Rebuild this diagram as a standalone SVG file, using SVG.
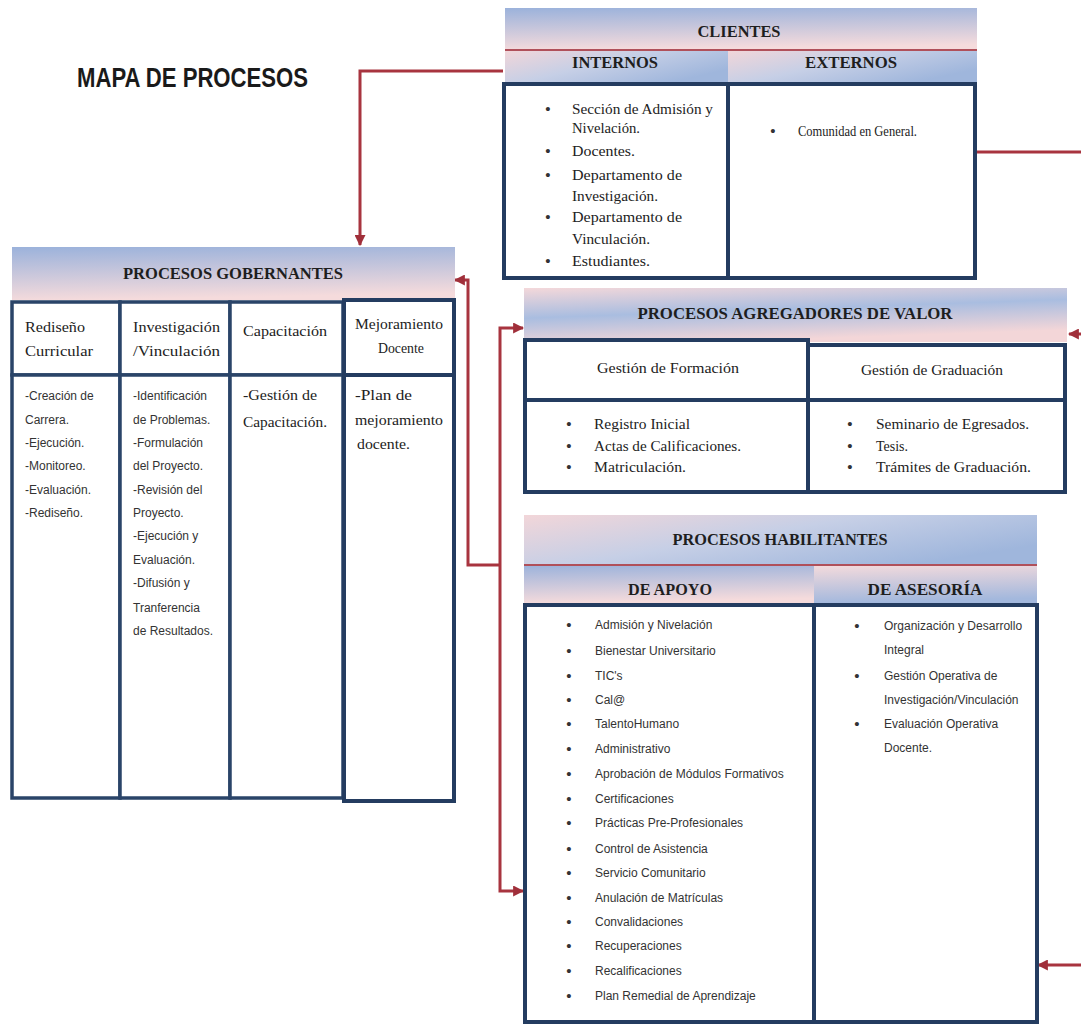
<svg xmlns="http://www.w3.org/2000/svg" width="1081" height="1027" viewBox="0 0 1081 1027">
<defs>
<style>
.bg{fill:#ffffff}
.box{fill:#ffffff;stroke:#243c60;stroke-width:4}
.cell{fill:#ffffff;stroke:#2a4468;stroke-width:3.5}
.sep{stroke:#b0505a;stroke-width:2}
.ttl{font-family:"Liberation Serif","DejaVu Serif",serif;font-weight:bold;font-size:16px;fill:#1e1e1e;text-anchor:middle}
.srf{font-family:"Liberation Serif","DejaVu Serif",serif;font-size:14px;fill:#222}
.srfc{font-family:"Liberation Serif","DejaVu Serif",serif;font-size:14px;fill:#222;text-anchor:middle}
.sans{font-family:"Liberation Sans","DejaVu Sans",sans-serif;font-size:12px;fill:#333}
.bul{font-family:"Liberation Sans","DejaVu Sans",sans-serif;font-size:15px;fill:#333;text-anchor:middle}
.main{font-family:"Liberation Sans","DejaVu Sans",sans-serif;font-weight:bold;font-size:27px;fill:#1a1a1a}
.con{fill:none;stroke:#a8343f;stroke-width:3}
</style>
<linearGradient id="gBP" x1="0" y1="0" x2="0.15" y2="1">
<stop offset="0" stop-color="#9bb2db"/><stop offset="1" stop-color="#f5dbdc"/>
</linearGradient>
<linearGradient id="gPB" x1="0" y1="0" x2="0.15" y2="1">
<stop offset="0" stop-color="#f5dbdc"/><stop offset="1" stop-color="#a3b8dd"/>
</linearGradient>
<linearGradient id="gMix" x1="0" y1="0" x2="0.35" y2="1">
<stop offset="0" stop-color="#f4d8da"/><stop offset="0.5" stop-color="#a9bde0"/><stop offset="1" stop-color="#f3d6d8"/>
</linearGradient>
<linearGradient id="gMix2" x1="0" y1="0" x2="1" y2="0.6">
<stop offset="0" stop-color="#f2d6d9"/><stop offset="0.5" stop-color="#c6cfe6"/><stop offset="1" stop-color="#9fb6dc"/>
</linearGradient>
<marker id="arr" viewBox="0 0 10 10" refX="9" refY="5" markerWidth="11" markerHeight="11" markerUnits="userSpaceOnUse" orient="auto">
<path d="M0,0 L10,5 L0,10 Z" fill="#a02f3a"/>
</marker>
</defs>
<rect class="bg" x="0" y="0" width="1081" height="1027"/>

<text class="main" x="77" y="87" textLength="231" lengthAdjust="spacingAndGlyphs">MAPA DE PROCESOS</text>

<g id="connectors">
<path class="con" d="M503,71 H360 V245" marker-end="url(#arr)"/>
<path class="con" d="M500,565 H468 V280 H455" marker-end="url(#arr)"/>
<path class="con" d="M500,565 V328 H523" marker-end="url(#arr)"/>
<path class="con" d="M500,565 V891 H523" marker-end="url(#arr)"/>
<path class="con" d="M975,152 H1095 V965 H1038" marker-end="url(#arr)"/>
<path class="con" d="M1095,334 H1069" marker-end="url(#arr)"/>
</g>

<g id="clientes">
<rect x="505" y="8" width="472" height="42" fill="url(#gBP)"/>
<rect x="505" y="50" width="223" height="32" fill="url(#gMix2)"/>
<rect x="728" y="50" width="249" height="32" fill="url(#gMix2)"/>
<line class="sep" x1="505" y1="50" x2="977" y2="50"/>
<text class="ttl" x="739" y="37" textLength="83" lengthAdjust="spacingAndGlyphs">CLIENTES</text>
<text class="ttl" x="615" y="68" textLength="86" lengthAdjust="spacingAndGlyphs">INTERNOS</text>
<text class="ttl" x="851" y="68" textLength="92" lengthAdjust="spacingAndGlyphs">EXTERNOS</text>
<rect class="box" x="504" y="84" width="471" height="194"/>
<line class="box" x1="728" y1="84" x2="728" y2="278"/>
<text class="bul" x="548" y="114">•</text>
<text class="srf" x="572" y="114" textLength="141" lengthAdjust="spacingAndGlyphs">Sección de Admisión y</text>
<text class="srf" x="572" y="133" textLength="68" lengthAdjust="spacingAndGlyphs">Nivelación.</text>
<text class="bul" x="548" y="156">•</text>
<text class="srf" x="572" y="156" textLength="63" lengthAdjust="spacingAndGlyphs">Docentes.</text>
<text class="bul" x="548" y="180">•</text>
<text class="srf" x="572" y="180" textLength="110" lengthAdjust="spacingAndGlyphs">Departamento de</text>
<text class="srf" x="572" y="201" textLength="86" lengthAdjust="spacingAndGlyphs">Investigación.</text>
<text class="bul" x="548" y="222">•</text>
<text class="srf" x="572" y="222" textLength="110" lengthAdjust="spacingAndGlyphs">Departamento de</text>
<text class="srf" x="572" y="244" textLength="78" lengthAdjust="spacingAndGlyphs">Vinculación.</text>
<text class="bul" x="548" y="266">•</text>
<text class="srf" x="572" y="266" textLength="78" lengthAdjust="spacingAndGlyphs">Estudiantes.</text>
<text class="bul" x="773" y="136">•</text>
<text class="srf" x="798" y="136" font-size="12" textLength="119" lengthAdjust="spacingAndGlyphs">Comunidad en General.</text>
</g>

<g id="gobernantes">
<rect x="12" y="247" width="443" height="53" fill="url(#gBP)"/>
<text class="ttl" x="233" y="279" textLength="220" lengthAdjust="spacingAndGlyphs">PROCESOS GOBERNANTES</text>
<rect class="cell" x="12" y="302" width="108" height="73"/>
<rect class="cell" x="120" y="302" width="110" height="73"/>
<rect class="cell" x="230" y="302" width="113" height="73"/>
<rect class="cell" x="12" y="375" width="108" height="423"/>
<rect class="cell" x="120" y="375" width="110" height="423"/>
<rect class="cell" x="230" y="375" width="113" height="423"/>
<rect class="box" x="344" y="300" width="110" height="75"/>
<rect class="box" x="344" y="375" width="110" height="426"/>
<text class="srf" x="25" y="332" textLength="60" lengthAdjust="spacingAndGlyphs">Rediseño</text>
<text class="srf" x="25" y="356" textLength="68" lengthAdjust="spacingAndGlyphs">Curricular</text>
<text class="srf" x="133" y="332" textLength="87" lengthAdjust="spacingAndGlyphs">Investigación</text>
<text class="srf" x="133" y="356" textLength="87" lengthAdjust="spacingAndGlyphs">/Vinculación</text>
<text class="srf" x="243" y="336" textLength="84" lengthAdjust="spacingAndGlyphs">Capacitación</text>
<text class="srfc" x="399" y="329" textLength="88" lengthAdjust="spacingAndGlyphs">Mejoramiento</text>
<text class="srfc" x="401" y="353" textLength="46" lengthAdjust="spacingAndGlyphs">Docente</text>
<text class="sans" x="25" y="400">-Creación de</text>
<text class="sans" x="25" y="424">Carrera.</text>
<text class="sans" x="25" y="447">-Ejecución.</text>
<text class="sans" x="25" y="470">-Monitoreo.</text>
<text class="sans" x="25" y="494">-Evaluación.</text>
<text class="sans" x="25" y="517">-Rediseño.</text>
<text class="sans" x="133" y="400">-Identificación</text>
<text class="sans" x="133" y="424">de Problemas.</text>
<text class="sans" x="133" y="447">-Formulación</text>
<text class="sans" x="133" y="470">del Proyecto.</text>
<text class="sans" x="133" y="494">-Revisión del</text>
<text class="sans" x="133" y="517">Proyecto.</text>
<text class="sans" x="133" y="540">-Ejecución y</text>
<text class="sans" x="133" y="564">Evaluación.</text>
<text class="sans" x="133" y="587">-Difusión y</text>
<text class="sans" x="133" y="612">Tranferencia</text>
<text class="sans" x="133" y="635">de Resultados.</text>
<text class="srf" x="243" y="400" textLength="74" lengthAdjust="spacingAndGlyphs">-Gestión de</text>
<text class="srf" x="243" y="427" textLength="84" lengthAdjust="spacingAndGlyphs">Capacitación.</text>
<text class="srf" x="355" y="400" textLength="57" lengthAdjust="spacingAndGlyphs">-Plan de</text>
<text class="srf" x="355" y="425" textLength="88" lengthAdjust="spacingAndGlyphs">mejoramiento</text>
<text class="srf" x="357" y="449" textLength="53" lengthAdjust="spacingAndGlyphs">docente.</text>
</g>

<g id="agregadores">
<rect x="524" y="288" width="543" height="54" fill="url(#gMix)"/>
<text class="ttl" x="795" y="319" textLength="315" lengthAdjust="spacingAndGlyphs">PROCESOS AGREGADORES  DE VALOR</text>
<rect class="box" x="525" y="340" width="283" height="60"/>
<rect class="box" x="808" y="345" width="257" height="55"/>
<rect class="box" x="525" y="400" width="283" height="92"/>
<rect class="box" x="808" y="400" width="257" height="92"/>
<text class="srfc" x="668" y="373" textLength="142" lengthAdjust="spacingAndGlyphs">Gestión de Formación</text>
<text class="srfc" x="932" y="375" textLength="142" lengthAdjust="spacingAndGlyphs">Gestión de Graduación</text>
<text class="bul" x="569" y="429">•</text>
<text class="srf" x="594" y="429" textLength="96" lengthAdjust="spacingAndGlyphs">Registro Inicial</text>
<text class="bul" x="569" y="451">•</text>
<text class="srf" x="594" y="451" textLength="147" lengthAdjust="spacingAndGlyphs">Actas de Calificaciones.</text>
<text class="bul" x="569" y="472">•</text>
<text class="srf" x="594" y="472" textLength="92" lengthAdjust="spacingAndGlyphs">Matriculación.</text>
<text class="bul" x="850" y="429">•</text>
<text class="srf" x="876" y="429" textLength="153" lengthAdjust="spacingAndGlyphs">Seminario de Egresados.</text>
<text class="bul" x="850" y="451">•</text>
<text class="srf" x="876" y="451" textLength="32" lengthAdjust="spacingAndGlyphs">Tesis.</text>
<text class="bul" x="850" y="472">•</text>
<text class="srf" x="876" y="472" textLength="155" lengthAdjust="spacingAndGlyphs">Trámites de Graduación.</text>
</g>

<g id="habilitantes">
<rect x="524" y="515" width="513" height="50" fill="url(#gMix2)"/>
<rect x="524" y="565" width="290" height="38" fill="url(#gBP)"/>
<rect x="814" y="565" width="223" height="38" fill="url(#gPB)"/>
<line class="sep" x1="524" y1="565" x2="1037" y2="565"/>
<text class="ttl" x="780" y="545" textLength="215" lengthAdjust="spacingAndGlyphs">PROCESOS HABILITANTES</text>
<text class="ttl" x="670" y="595" textLength="84" lengthAdjust="spacingAndGlyphs">DE APOYO</text>
<text class="ttl" x="925" y="595" textLength="115" lengthAdjust="spacingAndGlyphs">DE ASESORÍA</text>
<rect class="box" x="525" y="605" width="512" height="417"/>
<line class="box" x1="814" y1="605" x2="814" y2="1022"/>
<g class="sans">
<text class="bul" x="569" y="630">•</text><text x="595" y="629">Admisión y Nivelación</text>
<text class="bul" x="569" y="656">•</text><text x="595" y="655">Bienestar Universitario</text>
<text class="bul" x="569" y="681">•</text><text x="595" y="680">TIC's</text>
<text class="bul" x="569" y="705">•</text><text x="595" y="704">Cal@</text>
<text class="bul" x="569" y="729">•</text><text x="595" y="728">TalentoHumano</text>
<text class="bul" x="569" y="754">•</text><text x="595" y="753">Administrativo</text>
<text class="bul" x="569" y="779">•</text><text x="595" y="778">Aprobación de Módulos Formativos</text>
<text class="bul" x="569" y="804">•</text><text x="595" y="803">Certificaciones</text>
<text class="bul" x="569" y="828">•</text><text x="595" y="827">Prácticas Pre-Profesionales</text>
<text class="bul" x="569" y="854">•</text><text x="595" y="853">Control de Asistencia</text>
<text class="bul" x="569" y="878">•</text><text x="595" y="877">Servicio Comunitario</text>
<text class="bul" x="569" y="903">•</text><text x="595" y="902">Anulación de Matrículas</text>
<text class="bul" x="569" y="927">•</text><text x="595" y="926">Convalidaciones</text>
<text class="bul" x="569" y="951">•</text><text x="595" y="950">Recuperaciones</text>
<text class="bul" x="569" y="976">•</text><text x="595" y="975">Recalificaciones</text>
<text class="bul" x="569" y="1001">•</text><text x="595" y="1000">Plan Remedial de Aprendizaje</text>
<text class="bul" x="857" y="631">•</text><text x="884" y="630">Organización y Desarrollo</text>
<text x="884" y="654">Integral</text>
<text class="bul" x="857" y="681">•</text><text x="884" y="680">Gestión Operativa de</text>
<text x="884" y="704">Investigación/Vinculación</text>
<text class="bul" x="857" y="729">•</text><text x="884" y="728">Evaluación Operativa</text>
<text x="884" y="752">Docente.</text>
</g>
</g>
</svg>
